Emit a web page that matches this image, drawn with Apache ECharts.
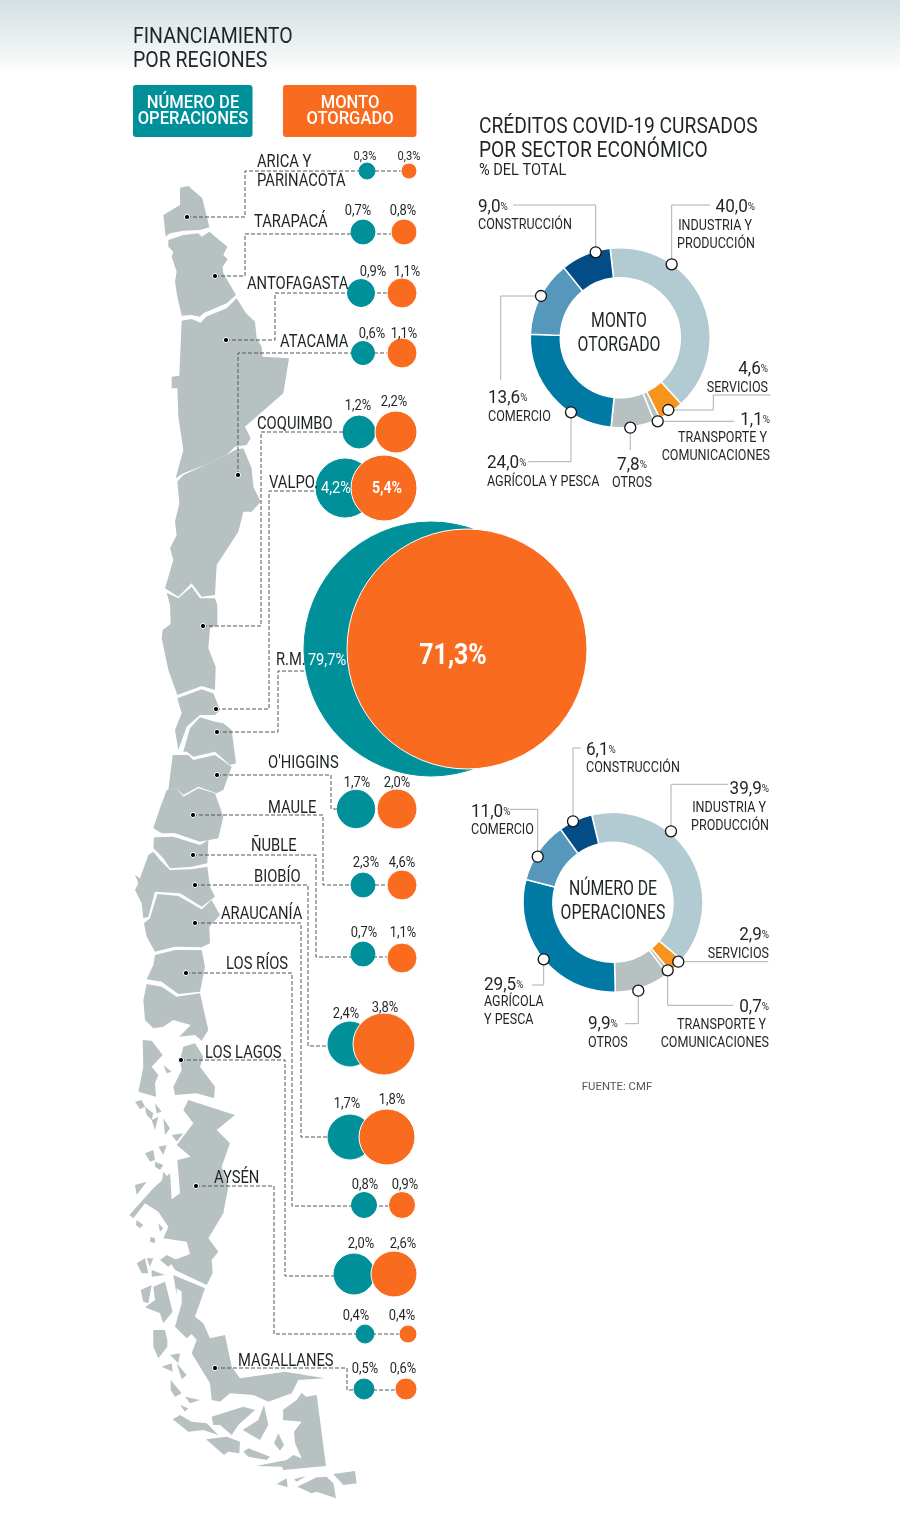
<!DOCTYPE html>
<html lang="es">
<head>
<meta charset="UTF-8">
<title>Financiamiento por regiones</title>
<style>
    html, body { margin: 0; padding: 0; background: #fff; }
    #chart { width: 900px; height: 1526px; }
</style>
<script src="https://cdn.jsdelivr.net/npm/echarts@6/dist/echarts.min.js"></script>
</head>
<body>
<div id="chart"></div>
<script>
// datos por region
var regiones = ['ARICA Y|PARINACOTA', 'TARAPACÁ', 'ANTOFAGASTA', 'ATACAMA', 'COQUIMBO', 'VALPO.', 'R.M.', "O'HIGGINS", 'MAULE', 'ÑUBLE', 'BIOBÍO', 'ARAUCANÍA', 'LOS RÍOS', 'LOS LAGOS', 'AYSÉN', 'MAGALLANES'];
var operaciones = [0.3, 0.7, 0.9, 0.6, 1.2, 4.2, 79.7, 1.7, 2.3, 0.7, 2.4, 1.7, 0.8, 2.0, 0.4, 0.5];
var monto = [0.3, 0.8, 1.1, 1.1, 2.2, 5.4, 71.3, 2.0, 4.6, 1.1, 3.8, 1.8, 0.9, 2.6, 0.4, 0.6];

// datos por sector (sentido horario desde industria)
var sectores = ['INDUSTRIA Y|PRODUCCIÓN', 'SERVICIOS', 'TRANSPORTE Y|COMUNICACIONES', 'OTROS', 'AGRÍCOLA Y PESCA', 'COMERCIO', 'CONSTRUCCIÓN'];
var sectorMonto = [40.0, 4.6, 1.1, 7.8, 24.0, 13.6, 9.0];
var sectorOper = [39.9, 2.9, 0.7, 9.9, 29.5, 11.0, 6.1];

// layout burbujas
var TEAL = '#00909a', ORANGE = '#f96b1e', INK = '#1f2426', GRIS = '#b7c1c2', LINEA = '#555';
var FONT = 'Roboto, "Open Sans", sans-serif';
var filaOper = [[367,171,8],[363,232,12],[361,293,13.5],[363,353,11.5],[359,432,16],[345,488,29],[431,649,127],[356,809,18.7],[363,885,12],[363,954,12],[350,1044,22],[350,1137,22],[364,1205,12.5],[354,1274,20],[365,1334,9],[364,1389,10]];
var filaMonto = [[409,171,8],[404,232,13],[402,293,15],[402,353,15],[396,432,21],[384,488,33],[467,649,120],[397,809,20],[402,885,15],[402,958,15],[384,1044,31],[387,1137,28],[402,1205,13.5],[394,1274,23],[408,1334,9],[406,1389,11]];
var etiqOper = [[365,156],[358,210],[373,271],[372,333],[358,405],[336,488],[327,660],[357,782],[366,862],[364,932],[346,1013],[347,1103],[365,1184],[361,1243],[356,1315],[365,1368]];
var etiqMonto = [[409,156],[403,210],[407,271],[404,333],[394,401],[387,488],[453,655],[397,782],[402,862],[403,932],[385,1007],[392,1099],[405,1184],[403,1243],[402,1315],[403,1368]];
var etiqRegion = [[257,161],[254,221],[247,283],[280,341],[257,423],[269,482],[276,659],[268,762],[268,807],[251,845],[254,876],[221,913],[226,963],[205,1052],[214,1177],[238,1360]];
var conectores = [
    [[187,217],[245,217],[245,171],[409,171]],
    [[215,276],[245,276],[245,234],[404,234]],
    [[226,340],[275,340],[275,293],[402,293]],
    [[238,475],[238,353],[402,353]],
    [[203,626],[261,626],[261,432],[359,432]],
    [[216,709],[269,709],[269,491],[345,491]],
    [[217,732],[278,732],[278,671],[320,671]],
    [[217,775],[331,775],[331,809],[356,809]],
    [[193,815],[323,815],[323,885],[402,885]],
    [[193,855],[316,855],[316,957],[402,957]],
    [[195,885],[308,885],[308,1046],[350,1046]],
    [[195,923],[301,923],[301,1137],[350,1137]],
    [[186,973],[292,973],[292,1206],[402,1206]],
    [[181,1060],[285,1060],[285,1276],[354,1276]],
    [[196,1186],[274,1186],[274,1334],[408,1334]],
    [[215,1368],[347,1368],[347,1390],[406,1390]]
];

// siluetas del mapa, trazadas por tramo: [origen x, origen y, puntos a escala 3x]
var mapa = [
    [120,140,[[180,143],[205,138],[247,175],[268,262],[240,270],[190,272],[150,280],[137,290],[130,225],[180,195]]],
    [120,140,[[145,300],[190,285],[235,280],[245,290],[268,275],[322,320],[310,345],[323,358],[308,380],[310,400],[348,465],[320,490],[250,520],[240,530],[215,525],[185,527],[172,470],[165,425],[170,395],[155,350],[160,335],[145,320]]],
    [120,140,[[185,542],[215,537],[242,548],[258,530],[320,505],[350,475],[378,520],[405,545],[410,595],[425,620],[428,650],[507,655],[490,760],[375,860],[392,895],[380,915],[345,920],[320,945],[255,975],[190,1000],[167,1015],[190,930],[175,830],[172,745],[155,745],[155,710],[178,707]]],
    [120,470,[[345,-60],[370,-65],[395,-5],[400,50],[422,95],[395,125],[370,125],[355,185],[290,285],[285,375],[245,380],[215,340],[175,380],[135,355],[160,270],[150,235],[170,195],[165,155],[178,100],[172,35],[190,15],[255,-15],[320,-45]]],
    [120,470,[[140,368],[175,385],[215,350],[240,385],[285,385],[292,405],[292,465],[270,475],[265,535],[287,590],[285,660],[245,648],[172,675],[145,600],[125,505],[128,480],[152,462],[150,405]]],
    [120,470,[[172,685],[245,658],[280,670],[300,720],[285,735],[240,735],[200,770],[175,840],[165,780],[185,730]]],
    [120,470,[[190,845],[210,775],[240,742],[285,755],[310,760],[335,780],[348,880],[330,885],[285,845],[220,860],[200,845]]],
    [120,470,[[158,855],[205,855],[220,870],[285,855],[335,890],[310,960],[290,970],[235,950],[190,975],[170,955],[145,960]]],
    [120,790,[[140,0],[170,-5],[190,20],[235,-5],[285,10],[310,80],[295,145],[240,155],[165,130],[125,130],[100,115],[118,60]]],
    [120,790,[[102,142],[160,140],[240,165],[265,150],[262,220],[215,230],[150,235],[130,205],[100,175]]],
    [120,790,[[100,185],[120,210],[150,240],[215,238],[262,230],[270,290],[285,320],[245,350],[180,310],[105,305],[85,380],[70,385],[65,340],[45,300],[55,280],[45,255],[60,265],[85,195]]],
    [120,790,[[112,312],[175,318],[245,358],[275,330],[300,375],[268,410],[270,460],[245,472],[165,470],[105,485],[80,440],[72,400],[90,385]]],
    [120,790,[[105,495],[165,480],[245,480],[255,530],[240,605],[175,612],[145,590],[125,575],[80,568],[100,525]]],
    [120,790,[[80,582],[125,590],[170,620],[240,610],[265,720],[245,752],[225,735],[178,740],[212,705],[160,690],[130,710],[100,715],[75,690],[70,630]]],
    [120,790,[[68,750],[95,752],[128,795],[95,830],[115,855],[105,880],[108,920],[55,905],[70,830]]],
    [120,790,[[190,770],[225,760],[250,800],[240,830],[285,890],[282,925],[230,910],[165,915],[160,890],[185,840],[180,810]]],
    [120,790,[[130,825],[155,845],[140,850]]],
    [120,790,[[45,935],[65,930],[75,950],[60,958]]],
    [120,790,[[105,940],[125,965],[110,970]]],
    [120,790,[[75,950],[100,970],[95,990],[80,975]]],
    // aysen
    [120,1110,[[205,-30],[345,15],[290,60],[330,100],[305,170],[325,230],[310,310],[265,385],[295,425],[275,450],[278,490],[260,525],[165,480],[150,455],[210,432],[200,395],[130,385],[145,350],[115,305],[75,280],[40,325],[28,315],[100,235],[150,190],[155,268],[180,250],[172,150],[212,140],[170,105],[220,40],[190,0]]],
    [120,1110,[[45,225],[80,215],[50,255]]],
    [120,1110,[[130,185],[155,215],[125,220]]],
    [120,1110,[[105,155],[130,165],[120,180],[105,170]]],
    [120,1110,[[75,130],[100,120],[105,150],[90,155]]],
    [120,1110,[[115,110],[140,105],[130,135]]],
    [120,1110,[[155,75],[190,70],[170,95]]],
    [120,1110,[[130,25],[150,55],[135,75]]],
    [120,1110,[[95,30],[115,20],[105,60]]],
    [120,1110,[[50,330],[70,345],[60,355],[48,345]]],
    [120,1110,[[115,340],[130,355],[120,365]]],
    [120,1110,[[92,380],[105,385],[105,400],[90,395]]],
    [120,1110,[[50,460],[75,445],[85,490],[65,490]]],
    [120,1110,[[80,445],[100,445],[90,470]]],
    [120,1110,[[120,450],[140,435],[170,450],[145,470]]],
    [120,1110,[[95,480],[135,495],[95,500]]],
    [120,1110,[[62,540],[95,525],[85,580],[70,575]]],
    [120,1110,[[100,530],[135,515],[158,605],[130,640],[120,610],[75,592],[105,570]]],
    // magallanes
    [120,1110,[[160,495],[255,535],[225,620],[250,640],[270,685],[315,675],[335,770],[360,805],[495,785],[615,805],[535,810],[515,850],[445,875],[400,855],[330,850],[300,875],[275,870],[270,820],[215,730],[230,690],[215,672],[200,685],[165,650],[185,580],[185,545],[170,535],[170,555]]],
    [120,1110,[[100,660],[135,660],[142,690],[142,710],[115,745],[100,710]]],
    [120,1110,[[150,735],[180,730],[175,760]]],
    [120,1110,[[125,770],[155,760],[158,785]]],
    [120,1110,[[170,760],[200,795],[185,808]]],
    [120,1110,[[152,810],[185,850],[165,860],[152,840]]],
    [120,1110,[[195,860],[240,870],[210,880]]],
    [120,1110,[[180,885],[205,895],[195,905]]],
    [120,1110,[[158,928],[180,915],[215,935],[260,940],[295,975],[250,960],[205,965]]],
    [120,1110,[[275,920],[370,890],[405,900],[355,945],[335,975],[300,945],[280,945]]],
    [120,1110,[[368,960],[415,930],[432,885],[445,945],[420,990]]],
    [120,1110,[[258,988],[320,980],[360,995],[358,1030],[325,1025],[312,1035]]],
    [120,1110,[[370,1025],[385,1015],[450,1040],[440,1050],[385,1040]]],
    [120,1110,[[462,1000],[475,970],[492,1005],[480,1022]]],
    [120,1110,[[488,900],[530,870],[545,848],[558,860],[590,855],[618,1068],[490,1080],[485,1070],[408,1068],[500,1050],[520,1035],[545,1045],[525,1000],[522,965],[545,935],[488,930],[490,910]]],
    [120,1110,[[470,1122],[500,1105],[503,1132]]],
    [120,1110,[[522,1108],[558,1098],[530,1115]]],
    [120,1110,[[532,1130],[590,1102],[620,1100],[640,1120],[648,1165],[590,1145],[575,1150]]],
    [120,1110,[[640,1092],[705,1083],[710,1120],[670,1125]]]
];

// leader lines de las donas: [marcador, ...codos]
var guiasMonto = [
    [[671.7,264.3],[671.7,205],[710,205]],
    [[668.3,410],[713.3,410],[713.3,395],[770.7,395]],
    [[657.7,421.3],[734,421.3]],
    [[630.3,427.7],[630.3,450]],
    [[571,412.3],[571,461.7],[528.3,461.7]],
    [[541,296],[500.7,296],[500.7,380]],
    [[595.7,252.3],[595.7,205],[513,205]]
];
var guiasOper = [
    [[671,831.3],[671,784.3],[728.3,784.3]],
    [[678.3,961.7],[768.3,961.7]],
    [[667.7,970.3],[667.7,1005.3],[733.3,1005.3]],
    [[638.3,990.7],[638.3,1023.7],[625,1023.7]],
    [[543.7,959.3],[543.7,985],[531.7,985]],
    [[537.7,856.7],[537.7,809.3],[510,809.3]],
    [[573,821.3],[573,748],[580.7,748]]
];
// posicion de textos de sectores: [x, y valor, y nombre, alineacion]
var textosMonto = [[755,206,225,'right'],[768,368,387,'right'],[770,419,437,'right'],[632,464,482,'center'],[487,462,481,'left'],[488,397,416,'left'],[478,206,224,'left']];
var textosOper = [[769,788,807,'right'],[769,934,953,'right'],[769,1006,1024,'right'],[588,1023,1042,'left'],[484,984,1001,'left'],[471,811,829,'left'],[586,749,767,'left']];
var COLORES = ['#b2cad1', '#f7941d', '#b7c1c2', '#b7c1c2', '#0079a4', '#5598bb', '#034c86'];

function pct(v) { return v.toFixed(1).replace('.', ','); }

// texto condensado: Roboto angostado con scaleX
function txt(x, y, s, size, ancho, color, align, extra) {
    extra = extra || {};
    var style = { text: s, font: (extra.peso ? extra.peso + ' ' : '') + size + 'px ' + FONT, fill: color || INK, textAlign: align || 'left', textVerticalAlign: 'middle' };
    if (extra.rich) style.rich = extra.rich;
    return { type: 'text', x: x, y: y + 2.5, scaleX: ancho, z: 20, silent: true, style: style };
}

var graficos = [];
graficos.push({
    type: 'rect', z: 0, silent: true, shape: { x: 0, y: 0, width: 900, height: 71 },
    style: { fill: new echarts.graphic.LinearGradient(0, 0, 0, 1, [{ offset: 0, color: '#d3dfe3' }, { offset: 1, color: '#fcfdfd' }]) }
});
mapa.forEach(function (m) {
    graficos.push({
        type: 'polygon', z: 1, silent: true,
        shape: { points: m[2].map(function (p) { return [m[0] + p[0] / 3, m[1] + p[1] / 3]; }) },
        style: { fill: GRIS }
    });
});
conectores.forEach(function (c) {
    graficos.push({ type: 'polyline', z: 1, silent: true, shape: { points: c }, style: { stroke: LINEA, lineWidth: 1, lineDash: [4, 2], fill: null } });
    graficos.push({ type: 'circle', z: 3, silent: true, shape: { cx: c[0][0], cy: c[0][1], r: 2.6 }, style: { fill: '#000', stroke: '#fff', lineWidth: 1 } });
});

// encabezados
graficos.push(txt(133, 35, 'FINANCIAMIENTO', 22.5, 0.867));
graficos.push(txt(133, 59, 'POR REGIONES', 22.5, 0.867));
graficos.push({ type: 'rect', z: 3, silent: true, shape: { x: 133, y: 85, width: 119.5, height: 52, r: 3 }, style: { fill: TEAL } });
graficos.push({ type: 'rect', z: 3, silent: true, shape: { x: 283, y: 85, width: 133.5, height: 52, r: 3 }, style: { fill: ORANGE } });
var leyenda = { peso: 500 };
graficos.push(txt(193, 101, 'NÚMERO DE', 18, 0.92, '#fff', 'center', leyenda));
graficos.push(txt(193, 117, 'OPERACIONES', 18, 0.92, '#fff', 'center', leyenda));
graficos.push(txt(350, 101, 'MONTO', 18, 0.92, '#fff', 'center', leyenda));
graficos.push(txt(350, 117, 'OTORGADO', 18, 0.92, '#fff', 'center', leyenda));
graficos.push(txt(479, 125, 'CRÉDITOS COVID-19 CURSADOS', 22, 0.873));
graficos.push(txt(479, 149, 'POR SECTOR ECONÓMICO', 22, 0.873));
graficos.push(txt(479, 168, '% DEL TOTAL', 16, 0.91));
graficos.push(txt(619, 319, 'MONTO', 20, 0.79, INK, 'center'));
graficos.push(txt(619, 343, 'OTORGADO', 20, 0.79, INK, 'center'));
graficos.push(txt(613, 887, 'NÚMERO DE', 20, 0.79, INK, 'center'));
graficos.push(txt(613, 911, 'OPERACIONES', 20, 0.79, INK, 'center'));
graficos.push(txt(617, 1085, 'FUENTE: CMF', 10.5, 1.08, '#555', 'center'));

// nombres de region
regiones.forEach(function (r, i) {
    r.split('|').forEach(function (l, j) {
        graficos.push(txt(etiqRegion[i][0], etiqRegion[i][1] - 0.5 + j * 19, l, 17.5, 0.843));
    });
});

// valores sobre las burbujas
function rotulos(valores, pos) {
    valores.forEach(function (v, i) {
        var interior = regiones[i] === 'VALPO.' || regiones[i] === 'R.M.';
        var grande = v === 71.3;
        var size = grande ? 30 : (interior ? 17 : (i === 0 ? 13 : 15));
        graficos.push(txt(pos[i][0], pos[i][1] - 1.5, pct(v) + '%', size, grande || v === 5.4 ? 0.83 : 0.86, interior ? '#fff' : INK, 'center', { peso: grande || v === 5.4 ? 'bold' : 400 }));
    });
}
rotulos(operaciones, etiqOper);
rotulos(monto, etiqMonto);

// textos y guias de sectores
function sectorTextos(valores, pos, guias, partes) {
    valores.forEach(function (v, i) {
        var p = pos[i];
        graficos.push(txt(p[0], p[1] - 1.5, '{n|' + pct(v) + '}{u|%}', 19, 0.9, INK, p[3], {
            rich: { n: { font: '19px ' + FONT, fill: INK }, u: { font: '11px ' + FONT, fill: INK } }
        }));
        partes[i].forEach(function (l, j) {
            var sangria = (j === 0 && partes[i].length > 1 && p[3] === 'right') ? 3 : 0;
            graficos.push(txt(p[0] - sangria, p[2] - 1.5 + j * 18, l, 15.5, 0.81, INK, p[3]));
        });
        graficos.push({ type: 'polyline', z: 5, silent: true, shape: { points: guias[i] }, style: { stroke: '#a8b0b2', lineWidth: 1, fill: null } });
        graficos.push({ type: 'circle', z: 6, silent: true, shape: { cx: guias[i][0][0], cy: guias[i][0][1], r: 5.5 }, style: { fill: '#fff', stroke: '#111', lineWidth: 1.3 } });
    });
}
sectorTextos(sectorMonto, textosMonto, guiasMonto, sectores.map(function (s) { return s.split('|'); }));
sectorTextos(sectorOper, textosOper, guiasOper, sectores.map(function (s) {
    return s === 'AGRÍCOLA Y PESCA' ? ['AGRÍCOLA', 'Y PESCA'] : s.split('|');
}));

function dona(valores, cx, cy, inicio) {
    return {
        type: 'pie', silent: true, z: 3, animation: false, clockwise: true, startAngle: inicio,
        center: [cx, cy], radius: [60, 90], label: { show: false }, labelLine: { show: false },
        itemStyle: { borderColor: '#fff', borderWidth: 1.5 },
        data: valores.map(function (v, i) { return { value: v, name: sectores[i], itemStyle: { color: COLORES[i] } }; })
    };
}

function burbujas(nombre, valores, filas, color, borde) {
    return {
        name: nombre, type: 'scatter', silent: true, animation: false, z: 4,
        symbolSize: function (d) { return d[3] * 2; },
        itemStyle: { color: color, borderColor: borde, borderWidth: 1, opacity: 1 },
        data: valores.map(function (v, i) { return [filas[i][0], filas[i][1], v, filas[i][2]]; })
    };
}

var chart = echarts.init(document.getElementById('chart'));
chart.setOption({
    animation: false,
    grid: { left: 0, right: 0, top: 0, bottom: 0 },
    xAxis: { type: 'value', min: 0, max: 900, show: false },
    yAxis: { type: 'value', min: 0, max: 1526, inverse: true, show: false },
    graphic: { elements: graficos },
    series: [
        burbujas('Número de operaciones', operaciones, filaOper, TEAL, TEAL),
        burbujas('Monto otorgado', monto, filaMonto, ORANGE, '#fff'),
        dona(sectorMonto, 620.3, 337.7, 96.5),
        dona(sectorOper, 613, 902.3, 103.7)
    ]
});
</script>
</body>
</html>
